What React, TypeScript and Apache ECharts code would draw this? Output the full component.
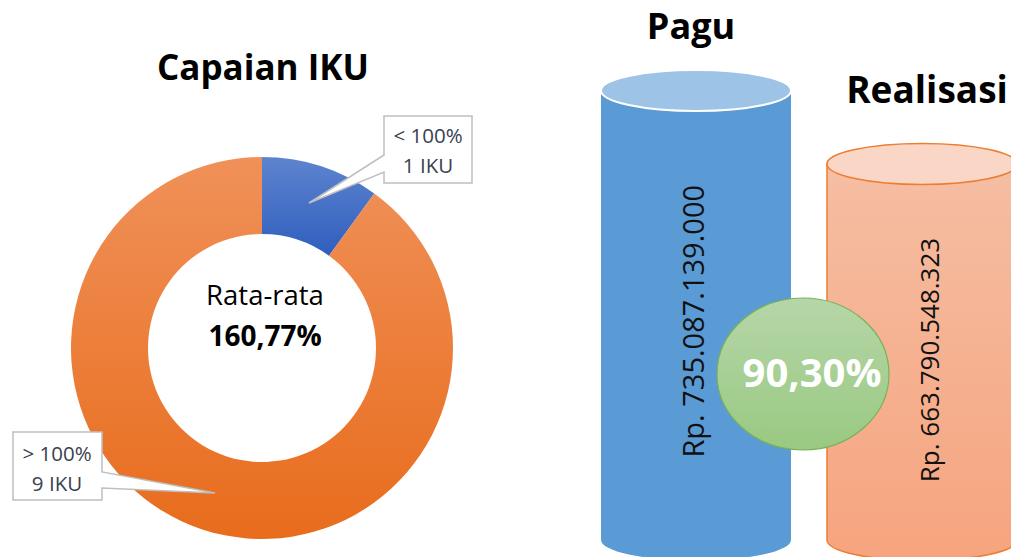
import React, { useEffect, useRef } from 'react';
import * as echarts from 'echarts';

// ---- data ----
const ikuCategories = ['< 100%', '> 100%'];
const ikuCounts = [1, 9];
const ikuUnit = 'IKU';
const ikuAverageLabel = 'Rata-rata';
const ikuAverage = '160,77%';
const ikuTitle = 'Capaian IKU';

const budgetCategories = ['Pagu', 'Realisasi'];
const budgetValues = [735087139000, 663790548323];

const FONT = '"Open Sans", "Noto Sans", sans-serif';

function formatRp(v: number): string {
  return 'Rp. ' + String(Math.round(v)).replace(/\B(?=(\d{3})+(?!\d))/g, '.');
}
function formatPct(a: number, b: number): string {
  return ((a / b) * 100).toFixed(2).replace('.', ',') + '%';
}

export default function App() {
  const ref = useRef<HTMLDivElement>(null);

  useEffect(() => {
    if (!ref.current) return;
    const chart = echarts.init(ref.current, null, { renderer: 'svg' });

    const sliceColors = [
      new echarts.graphic.LinearGradient(0, 0, 0, 1, [
        { offset: 0, color: '#5E84CF' },
        { offset: 1, color: '#2F5EBE' },
      ]),
      new echarts.graphic.LinearGradient(0, 0, 0, 1, [
        { offset: 0, color: '#F09159' },
        { offset: 1, color: '#E86C1C' },
      ]),
    ];

    const cyl = [
      {
        body: '#5B9BD5',
        bodyStroke: 'none',
        top: '#9DC3E6',
        topStroke: '#FFFFFF',
        topLine: 2,
        font: 29,
        dx: -4,
        dy: 6,
      },
      {
        body: new echarts.graphic.LinearGradient(0, 0, 0, 1, [
          { offset: 0, color: '#F5BEA3' },
          { offset: 1, color: '#F6A47E' },
        ]),
        bodyStroke: '#ED7D31',
        top: '#F9D6C5',
        topStroke: '#ED7D31',
        topLine: 1.5,
        font: 26,
        dx: 7,
        dy: 8,
      },
    ];

    const callouts = [
      { box: [384, 116, 472, 183], side: 'left', w1: 155, w2: 172, tip: [309, 203], tx: 428, ty1: 135, ty2: 165 },
      { box: [13, 432, 102, 500], side: 'right', w1: 472, w2: 488, tip: [215, 493], tx: 57, ty1: 453, ty2: 483 },
    ];

    const calloutGraphics: any[] = [];
    callouts.forEach((c, i) => {
      const [l, t, r, b] = c.box;
      let pts: number[][];
      if (c.side === 'left') {
        pts = [[l, t], [r, t], [r, b], [l, b], [l, c.w2], c.tip, [l, c.w1]];
      } else {
        pts = [[l, t], [r, t], [r, c.w1], c.tip, [r, c.w2], [r, b], [l, b]];
      }
      calloutGraphics.push({
        type: 'polygon',
        z: 100,
        shape: { points: pts },
        style: { fill: '#FFFFFF', stroke: '#BFBFBF', lineWidth: 1.5 },
      });
      calloutGraphics.push({
        type: 'text',
        z: 101,
        x: c.tx,
        y: c.ty1,
        style: {
          text: ikuCategories[i],
          fontSize: 20.5,
          fontFamily: FONT,
          fill: '#3A4150',
          align: 'center',
          verticalAlign: 'middle',
        },
      });
      calloutGraphics.push({
        type: 'text',
        z: 101,
        x: c.tx,
        y: c.ty2,
        style: {
          text: ikuCounts[i] + ' ' + ikuUnit,
          fontSize: 20.5,
          fontFamily: FONT,
          fill: '#3A4150',
          align: 'center',
          verticalAlign: 'middle',
        },
      });
    });

    const option: any = {
      animation: false,
      backgroundColor: '#FFFFFF',
      grid: {
        left: 583,
        top: 0,
        width: 452,
        height: 540,
        containLabel: false,
        outerBoundsMode: 'none',
      },
      xAxis: {
        type: 'category',
        data: budgetCategories,
        show: false,
        boundaryGap: true,
      },
      yAxis: {
        type: 'value',
        min: 299.1e9,
        max: 822.9e9,
        show: false,
      },
      series: [
        {
          type: 'pie',
          center: [262, 348],
          radius: [114, 191],
          startAngle: 90,
          clockwise: true,
          silent: true,
          label: { show: false },
          labelLine: { show: false },
          itemStyle: { borderWidth: 0 },
          data: ikuCategories.map((name, i) => ({
            name,
            value: ikuCounts[i],
            itemStyle: { color: sliceColors[i] },
          })),
        },
        {
          type: 'custom',
          coordinateSystem: 'cartesian2d',
          silent: true,
          clip: false,
          data: budgetValues.map((v, i) => [i, v]),
          renderItem: (params: any, api: any) => {
            const idx = params.dataIndex;
            const v = api.value(1);
            const pt = api.coord([api.value(0), v]);
            const cs = params.coordSys;
            const bottom = cs.y + cs.height;
            const cx = pt[0];
            const top = pt[1];
            const rx = 95;
            const ry = 20.5;
            const l = cx - rx;
            const r = cx + rx;
            const s = cyl[idx];
            const d = `M ${l} ${top} L ${l} ${bottom} A ${rx} ${ry} 0 0 0 ${r} ${bottom} L ${r} ${top} Z`;
            return {
              type: 'group',
              children: [
                {
                  type: 'path',
                  shape: { pathData: d },
                  style: {
                    fill: s.body,
                    stroke: s.bodyStroke,
                    lineWidth: 1.5,
                  },
                },
                {
                  type: 'ellipse',
                  shape: { cx, cy: top, rx, ry },
                  style: { fill: s.top, stroke: s.topStroke, lineWidth: s.topLine },
                },
                {
                  type: 'text',
                  x: cx + s.dx,
                  y: (top + bottom) / 2 + s.dy,
                  rotation: Math.PI / 2,
                  style: {
                    text: formatRp(v),
                    fontSize: s.font,
                    fontFamily: FONT,
                    fill: '#111111',
                    align: 'center',
                    verticalAlign: 'middle',
                  },
                },
              ],
            };
          },
        },
      ],
      graphic: [
        {
          type: 'text',
          z: 100,
          x: 263,
          y: 66,
          style: {
            text: ikuTitle,
            fontSize: 35,
            fontWeight: 'bold',
            fontFamily: FONT,
            fill: '#000000',
            align: 'center',
            verticalAlign: 'middle',
          },
        },
        {
          type: 'text',
          z: 100,
          x: 265,
          y: 294,
          style: {
            text: ikuAverageLabel,
            fontSize: 27.5,
            fontFamily: FONT,
            fill: '#000000',
            align: 'center',
            verticalAlign: 'middle',
          },
        },
        {
          type: 'text',
          z: 100,
          x: 265,
          y: 335,
          style: {
            text: ikuAverage,
            fontSize: 28,
            fontWeight: 'bold',
            fontFamily: FONT,
            fill: '#000000',
            align: 'center',
            verticalAlign: 'middle',
          },
        },
        {
          type: 'text',
          z: 100,
          x: 691,
          y: 25,
          style: {
            text: budgetCategories[0],
            fontSize: 36,
            fontWeight: 'bold',
            fontFamily: FONT,
            fill: '#000000',
            align: 'center',
            verticalAlign: 'middle',
          },
        },
        {
          type: 'text',
          z: 100,
          x: 927,
          y: 88,
          style: {
            text: budgetCategories[1],
            fontSize: 37,
            fontWeight: 'bold',
            fontFamily: FONT,
            fill: '#000000',
            align: 'center',
            verticalAlign: 'middle',
          },
        },
        {
          type: 'ellipse',
          z: 100,
          shape: { cx: 803, cy: 374, rx: 86, ry: 76 },
          style: {
            fill: new echarts.graphic.LinearGradient(0, 0, 0, 1, [
              { offset: 0, color: '#B6D6A8' },
              { offset: 1, color: '#99C982' },
            ]),
            stroke: '#77B258',
            lineWidth: 1.2,
          },
        },
        {
          type: 'text',
          z: 101,
          x: 812,
          y: 371,
          style: {
            text: formatPct(budgetValues[1], budgetValues[0]),
            fontSize: 40,
            fontWeight: 'bold',
            fontFamily: FONT,
            fill: '#FFFFFF',
            align: 'center',
            verticalAlign: 'middle',
          },
        },
        ...calloutGraphics,
      ],
    };

    chart.setOption(option);
    return () => {
      chart.dispose();
    };
  }, []);

  return (
    <div
      ref={ref}
      style={{ position: 'fixed', left: 0, top: 0, width: 1011, height: 557, background: '#FFFFFF' }}
    />
  );
}
